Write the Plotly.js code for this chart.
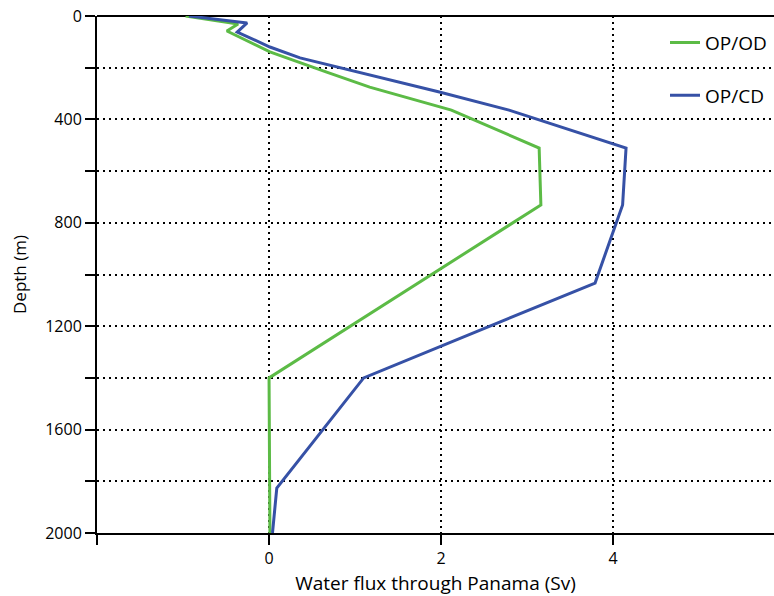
<!DOCTYPE html>
<html>
<head>
<meta charset="utf-8">
<script src="https://cdn.plot.ly/plotly-3.0.1.min.js"></script>
<style>html,body{margin:0;padding:0;background:#fff;}#chart{width:774px;height:596px;}</style>
</head>
<body>
<div id="chart"></div>
<script>
// OP/OD series (green)
const odFlux  = [-0.97, -0.36, -0.49, 0.01, 0.67, 1.17, 2.12, 3.14, 3.16, 0.00, 0.01];
const odDepth = [0, 31, 58, 139, 217, 275, 364, 511, 731, 1400, 2000];
// OP/CD series (blue)
const cdFlux  = [-0.93, -0.255, -0.37, 0.01, 0.36, 1.05, 1.98, 2.79, 4.15, 4.11, 3.79, 1.10, 0.09, 0.04];
const cdDepth = [0, 27, 62, 120, 162, 217, 294, 364, 511, 731, 1033, 1400, 1826, 2000];

const seriesNames = ['OP/OD', 'OP/CD'];
const xTickVals = [-2, 0, 2, 4];
const xTickText = ['', '0', '2', '4'];
const yTickVals = [0, 200, 400, 600, 800, 1000, 1200, 1400, 1600, 1800, 2000];
const yTickText = ['0', '', '400', '', '800', '', '1200', '', '1600', '', '2000'];

const traces = [
  {x: odFlux, y: odDepth, name: seriesNames[0], mode: 'lines', legendgroup: 'a',
   line: {color: '#5cbb46', width: 3}},
  {x: cdFlux, y: cdDepth, name: seriesNames[1], mode: 'lines', legendgroup: 'b',
   line: {color: '#3651a6', width: 3}}
];

const font = {family: '"Open Sans", sans-serif', color: '#000'};

const layout = {
  width: 774, height: 596,
  margin: {l: 97, r: 0, t: 16, b: 63},
  paper_bgcolor: '#fff', plot_bgcolor: '#fff',
  font: Object.assign({size: 16}, font),
  showlegend: true,
  legend: {x: 0.839, y: 0.985, xanchor: 'left', yanchor: 'top',
           font: Object.assign({size: 19}, font), bgcolor: 'rgba(0,0,0,0)',
           traceorder: 'grouped', tracegroupgap: 25},
  xaxis: {
    range: [-2, 5.87], tickvals: xTickVals, ticktext: xTickText,
    ticks: 'outside', ticklen: 10, tickwidth: 2, tickcolor: '#000',
    showline: true, linecolor: '#000', linewidth: 2,
    showgrid: true, gridcolor: '#000', gridwidth: 2, griddash: '2px,4px',
    zeroline: false,
    tickfont: Object.assign({size: 16}, font),
    title: {text: 'Water flux through Panama (Sv)', font: Object.assign({size: 19}, font), standoff: 13}
  },
  yaxis: {
    range: [2000, 0], tickvals: yTickVals, ticktext: yTickText,
    ticks: 'outside', ticklen: 10, tickwidth: 2, tickcolor: '#000',
    showline: true, linecolor: '#000', linewidth: 2,
    showgrid: true, gridcolor: '#000', gridwidth: 2, griddash: '2px,4px',
    zeroline: true, zerolinecolor: '#000', zerolinewidth: 2,
    tickfont: Object.assign({size: 16}, font),
    title: {text: 'Depth (m)', font: Object.assign({size: 17}, font), standoff: 14}
  }
};

Plotly.newPlot('chart', traces, layout, {displayModeBar: false, staticPlot: true});
</script>
</body>
</html>
